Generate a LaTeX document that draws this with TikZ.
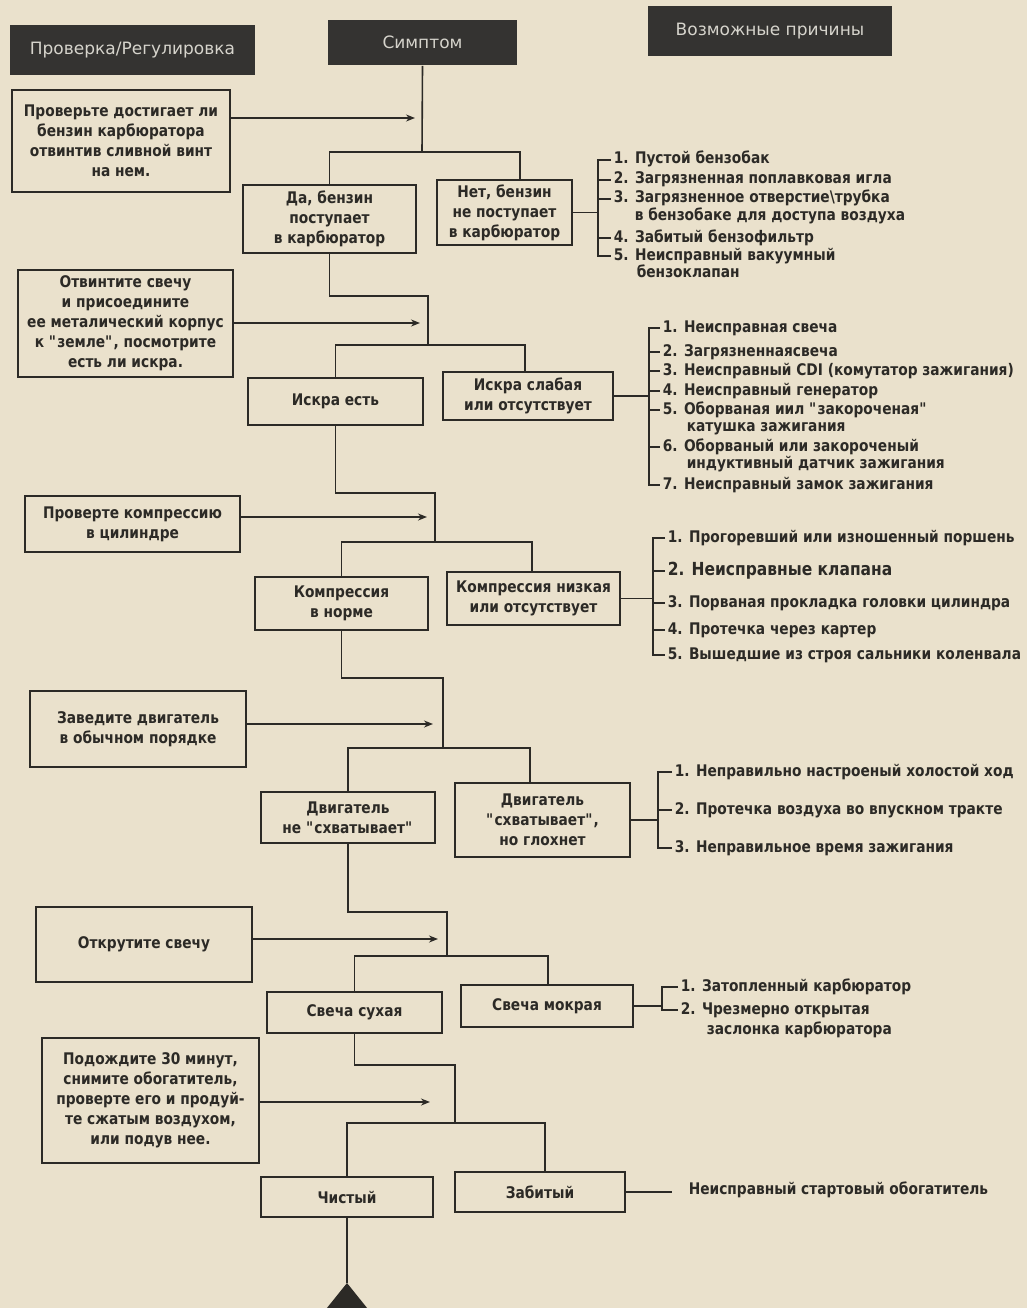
\documentclass[tikz,border=0pt]{standalone}
\usepackage{fontspec}
\setmainfont{DejaVu Sans}[FakeStretch=0.86]
\newfontfamily\hdrfont{DejaVu Sans}
\usetikzlibrary{arrows.meta}
\definecolor{paper}{RGB}{234,225,204}
\definecolor{ink}{RGB}{44,42,38}
\definecolor{hdrfill}{RGB}{52,51,49}
\definecolor{hdrtext}{RGB}{214,212,204}
\newcommand{\qt}{\textquotedbl}

\begin{document}
\begin{tikzpicture}[x=1pt, y=-1pt, line width=1.6pt,
    every node/.style={inner sep=2pt, text=ink},
    hdr/.style={fill=hdrfill, text=hdrtext, font=\hdrfont\fontsize{17}{19}\selectfont},
    chk/.style={draw=ink, align=center, font=\bfseries\fontsize{16}{20}\selectfont},
    sym/.style={chk},
    cause/.style={anchor=west, font=\bfseries\fontsize{16}{18}\selectfont, text height=11pt, text depth=3pt},
    line/.style={draw=ink},
    flow/.style={draw=ink, -{Stealth[length=9pt, width=7pt]}}]

        % Page and paper
        \useasboundingbox (0,0) rectangle (1027,1308);
        \path[clip] (0,0) rectangle (1027,1308);
        \fill[paper] (0,0) rectangle (1027,1308);

        % Column headers
        \node[hdr, minimum width=245pt, minimum height=50pt] (hdrCheck) at (132.5,50) {Проверка/Регулировка};
        \node[hdr, minimum width=189pt, minimum height=45pt] (hdrSym) at (422.5,42.5) {Симптом};
        \node[hdr, minimum width=244pt, minimum height=50pt] (hdrCause) at (770,31) {Возможные причины};

        % Checks (left column)
        \node[chk, minimum width=218pt, minimum height=102pt] (chkA) at (121,141) {Проверьте достигает ли\\бензин карбюратора\\отвинтив сливной винт\\на нем.};
        \node[chk, minimum width=215pt, minimum height=107pt] (chkB) at (125.5,323.5) {Отвинтите свечу\\и присоедините\\ее металический корпус\\к \qt земле\qt, посмотрите\\есть ли искра.};
        \node[chk, minimum width=215pt, minimum height=56pt] (chkC) at (132.5,524) {Проверте компрессию\\в цилиндре};
        \node[chk, minimum width=216pt, minimum height=76pt] (chkD) at (138,729) {Заведите двигатель\\в обычном порядке};
        \node[chk, minimum width=216pt, minimum height=75pt] (chkE) at (144,944.5) {Открутите свечу};
        \node[chk, minimum width=217pt, minimum height=125pt] (chkF) at (150.5,1100.5) {Подождите 30 минут,\\снимите обогатитель,\\проверте его и продуй-\\те сжатым воздухом,\\или подув нее.};

        % Symptoms (middle column)
        \node[sym, minimum width=173pt, minimum height=68pt] (yesA) at (329.5,219) {Да, бензин\\поступает\\в карбюратор};
        \node[sym, minimum width=135pt, minimum height=65pt] (noA) at (504.5,212.5) {Нет, бензин\\не поступает\\в карбюратор};
        \node[sym, minimum width=175pt, minimum height=47pt] (yesB) at (335.5,401.5) {Искра есть};
        \node[sym, minimum width=170pt, minimum height=48pt] (noB) at (528,396) {Искра слабая\\или отсутствует};
        \node[sym, minimum width=173pt, minimum height=53pt] (yesC) at (341.5,603.5) {Компрессия\\в норме};
        \node[sym, minimum width=173pt, minimum height=53pt] (noC) at (533.5,598.5) {Компрессия низкая\\или отсутствует};
        \node[sym, minimum width=174pt, minimum height=51pt] (yesD) at (348,817.5) {Двигатель\\не \qt схватывает\qt};
        \node[sym, minimum width=175pt, minimum height=74pt] (noD) at (542.5,820) {Двигатель\\\qt схватывает\qt,\\но глохнет};
        \node[sym, minimum width=175pt, minimum height=41pt] (yesE) at (354.5,1012.5) {Свеча сухая};
        \node[sym, minimum width=172pt, minimum height=42pt] (noE) at (547,1006) {Свеча мокрая};
        \node[sym, minimum width=172pt, minimum height=40pt] (yesF) at (347,1197) {Чистый};
        \node[sym, minimum width=170pt, minimum height=40pt] (noF) at (540,1192) {Забитый};

        % Trunk and branches
        \coordinate (jA) at (422,152);
        \coordinate (nA) at (520,152);
        \draw[line] (hdrSym.south) -- (jA);
        \draw[line] (yesA.north) |- (nA) -- (nA |- noA.north);

        \coordinate (bendB) at (428,296);
        \coordinate (nB) at (525,345);
        \draw[line] (yesA.south) |- (bendB) -- (bendB |- nB);
        \draw[line] (yesB.north) |- (nB) -- (nB |- noB.north);

        \coordinate (bendC) at (435,493);
        \coordinate (nC) at (532,542);
        \draw[line] (yesB.south) |- (bendC) -- (bendC |- nC);
        \draw[line] (yesC.north) |- (nC) -- (nC |- noC.north);

        \coordinate (bendD) at (443,678);
        \coordinate (nD) at (530,748);
        \draw[line] (yesC.south) |- (bendD) -- (bendD |- nD);
        \draw[line] (yesD.north) |- (nD) -- (nD |- noD.north);

        \coordinate (bendE) at (447,912);
        \coordinate (nE) at (548,956);
        \draw[line] (yesD.south) |- (bendE) -- (bendE |- nE);
        \draw[line] (yesE.north) |- (nE) -- (nE |- noE.north);

        \coordinate (bendF) at (455,1065);
        \coordinate (nF) at (545,1123);
        \draw[line] (yesE.south) |- (bendF) -- (bendF |- nF);
        \draw[line] (yesF.north) |- (nF) -- (nF |- noF.north);

        \coordinate (tri) at (347,1283);
        \draw[line] (yesF.south) -- (tri);
        \fill[ink] (tri) -- ++(-45,56) -- ++(90,0) -- cycle;

        % Arrows from the checks
        \coordinate (tipA) at (415,118);
        \coordinate (tipB) at (420,323);
        \coordinate (tipC) at (427,517);
        \coordinate (tipD) at (433,724);
        \coordinate (tipE) at (438,939);
        \coordinate (tipF) at (430,1102);
        \foreach \c in {A,B,C,D,E,F}
          \draw[flow] (chk\c.east |- tip\c) -- (tip\c);

        % Causes: list A
        \coordinate (brA) at ([xshift=25pt]noA.east);
        \draw[line] (noA.east) -- (brA);
        \foreach \y/\txt [count=\i] in {160/{1. Пустой бензобак}, 180/{2. Загрязненная поплавковая игла}, 199/{3. Загрязненное отверстие\textbackslash трубка}, 238/{4. Забитый бензофильтр}, 256/{5. Неисправный вакуумный}}
        {
          \node[cause] (cA\i) at (611,\y) {\txt};
          \draw[line] (cA\i.west -| brA) -- (cA\i.west);
        }
        \draw[line] (cA1.west) -| (brA) |- (cA5.west);
        \node[cause] (cA3b) at (632,216) {в бензобаке для доступа воздуха};
        \node[cause] (cA5b) at (634,273) {бензоклапан};

        % Causes: list B
        \coordinate (brB) at ([xshift=35pt]noB.east);
        \draw[line] (noB.east) -- (brB);
        \foreach \y/\txt [count=\i] in {328/{1. Неисправная свеча}, 352/{2. Загрязненнаясвеча}, 371/{3. Неисправный CDI (комутатор зажигания)}, 391/{4. Неисправный генератор}, 410/{5. Оборваная иил \qt закороченая\qt}, 447/{6. Оборваный или закороченый}, 485/{7. Неисправный замок зажигания}}
        {
          \node[cause] (cB\i) at (660,\y) {\txt};
          \draw[line] (cB\i.west -| brB) -- (cB\i.west);
        }
        \draw[line] (cB1.west) -| (brB) |- (cB7.west);
        \node[cause] (cB5b) at (684,427) {катушка зажигания};
        \node[cause] (cB6b) at (684,464) {индуктивный датчик зажигания};

        % Causes: list C
        \coordinate (brC) at ([xshift=32pt]noC.east);
        \draw[line] (noC.east) -- (brC);
        \foreach \y/\txt [count=\i] in {538/{1. Прогоревший или изношенный поршень}, 571/{\fontsize{18}{20}\selectfont 2. Неисправные клапана}, 603/{3. Порваная прокладка головки цилиндра}, 630/{4. Протечка через картер}, 655/{5. Вышедшие из строя сальники коленвала}}
        {
          \node[cause] (cC\i) at (665,\y) {\txt};
          \draw[line] (cC\i.west -| brC) -- (cC\i.west);
        }
        \draw[line] (cC1.west) -| (brC) |- (cC5.west);

        % Causes: list D
        \coordinate (brD) at ([xshift=27pt]noD.east);
        \draw[line] (noD.east) -- (brD);
        \foreach \y/\txt [count=\i] in {772/{1. Неправильно настроеный холостой ход}, 810/{2. Протечка воздуха во впускном тракте}, 848/{3. Неправильное время зажигания}}
        {
          \node[cause] (cD\i) at (672,\y) {\txt};
          \draw[line] (cD\i.west -| brD) -- (cD\i.west);
        }
        \draw[line] (cD1.west) -| (brD) |- (cD3.west);

        % Causes: list E
        \coordinate (brE) at ([xshift=28pt]noE.east);
        \draw[line] (noE.east) -- (brE);
        \foreach \y/\txt [count=\i] in {987/{1. Затопленный карбюратор}, 1010/{2. Чрезмерно открытая}}
        {
          \node[cause] (cE\i) at (678,\y) {\txt};
          \draw[line] (cE\i.west -| brE) -- (cE\i.west);
        }
        \draw[line] (cE1.west) -| (brE) |- (cE2.west);
        \node[cause] (cE2b) at (704,1030) {заслонка карбюратора};

        % Cause F
        \node[cause] (cF) at (686,1190) {Неисправный стартовый обогатитель};
        \draw[line] (noF.east) -- ([xshift=-14pt]cF.west |- noF.east);
      \end{tikzpicture}
\end{document}
